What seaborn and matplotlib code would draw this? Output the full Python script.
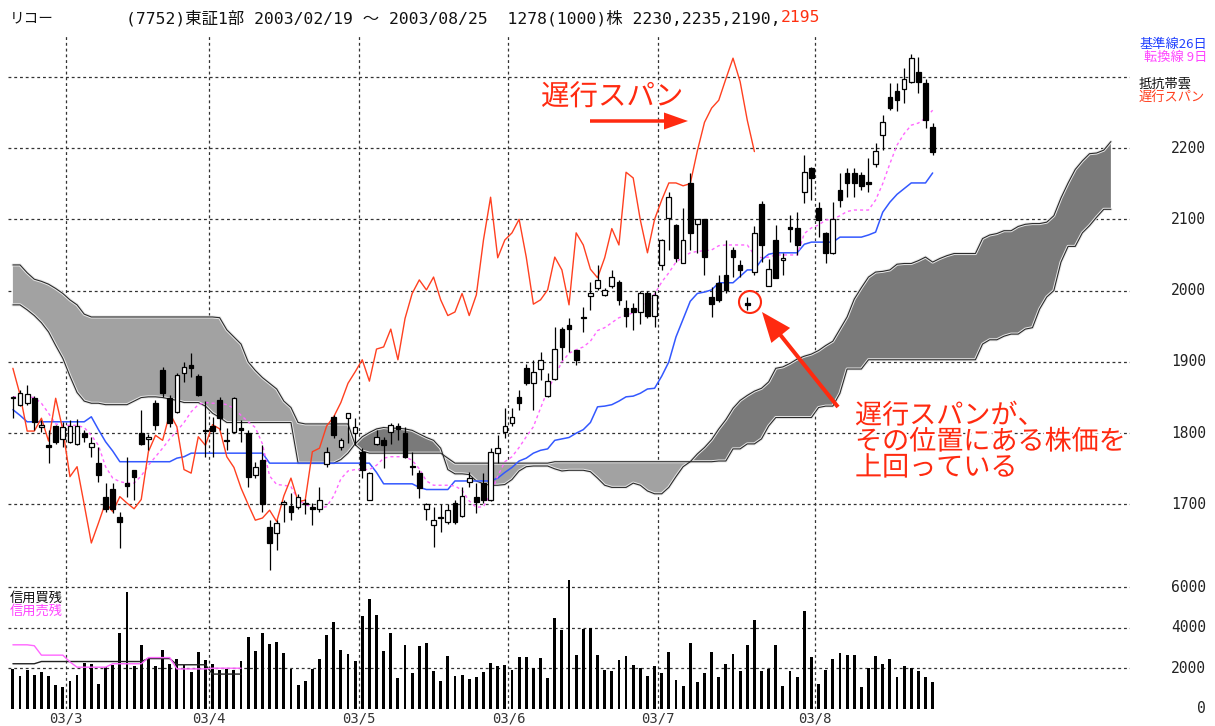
import numpy as np
import pandas as pd
import matplotlib
matplotlib.use("Agg")
import matplotlib.pyplot as plt
import matplotlib.patheffects as pe
import matplotlib.transforms as mtrans
from matplotlib.patches import Circle, FancyArrow
import seaborn as sns

# ---- データ (リコー 7752, 2003/02/19 - 2003/08/25, 日足) ----
open_px = [1849, 1840, 1843, 1850, 1808, 1783, 1810, 1792, 1788, 1785,
           1800, 1781, 1758, 1710, 1722, 1682, 1730, 1749, 1800, 1792,
           1843, 1888, 1849, 1830, 1885, 1896, 1880, 1805, 1810, 1847,
           1791, 1802, 1807, 1800, 1741, 1763, 1668, 1660, 1701, 1698,
           1697, 1700, 1696, 1693, 1757, 1823, 1781, 1821, 1800, 1774,
           1707, 1785, 1790, 1802, 1810, 1800, 1754, 1744, 1693, 1671,
           1683, 1675, 1702, 1684, 1731, 1711, 1730, 1706, 1772, 1802,
           1814, 1851, 1891, 1870, 1890, 1852, 1876, 1946, 1952, 1917,
           1963, 1992, 2004, 1994, 2006, 2012, 1976, 1975, 1970, 1996,
           1965, 2036, 2102, 2092, 2039, 2151, 2093, 2100, 1991, 2011,
           2022, 2057, 2036, 1982, 2026, 2121, 2006, 2071, 2043, 2089,
           2088, 2138, 2172, 2116, 2081, 2053, 2141, 2165, 2165, 2162,
           2152, 2178, 2218, 2271, 2280, 2283, 2293, 2307, 2291, 2230]
high_px = [1852, 1860, 1867, 1852, 1819, 1805, 1812, 1816, 1819, 1820,
           1805, 1795, 1780, 1730, 1730, 1689, 1767, 1749, 1832, 1799,
           1847, 1893, 1854, 1885, 1900, 1913, 1883, 1845, 1823, 1851,
           1807, 1851, 1819, 1805, 1760, 1784, 1678, 1678, 1706, 1716,
           1715, 1708, 1702, 1725, 1781, 1826, 1793, 1829, 1821, 1779,
           1745, 1805, 1795, 1814, 1814, 1808, 1774, 1749, 1702, 1697,
           1700, 1700, 1706, 1725, 1745, 1730, 1744, 1779, 1797, 1835,
           1835, 1861, 1897, 1903, 1914, 1884, 1949, 1949, 1962, 1917,
           1977, 2012, 2036, 2003, 2029, 2015, 1987, 1983, 1999, 1999,
           1999, 2072, 2138, 2093, 2116, 2165, 2101, 2101, 2005, 2022,
           2071, 2061, 2043, 1991, 2090, 2126, 2044, 2092, 2053, 2106,
           2110, 2190, 2173, 2124, 2082, 2124, 2165, 2172, 2172, 2166,
           2186, 2207, 2246, 2291, 2291, 2312, 2332, 2328, 2297, 2235]
low_px = [1822, 1838, 1840, 1805, 1802, 1758, 1785, 1780, 1786, 1784,
          1787, 1767, 1732, 1690, 1688, 1639, 1711, 1707, 1783, 1776,
          1805, 1851, 1809, 1828, 1872, 1879, 1852, 1767, 1767, 1805,
          1776, 1800, 1788, 1725, 1737, 1690, 1608, 1636, 1676, 1678,
          1693, 1686, 1671, 1690, 1753, 1793, 1777, 1786, 1783, 1737,
          1706, 1783, 1751, 1785, 1790, 1765, 1741, 1709, 1678, 1641,
          1661, 1673, 1673, 1683, 1725, 1688, 1702, 1705, 1758, 1793,
          1810, 1833, 1867, 1833, 1875, 1851, 1875, 1903, 1914, 1896,
          1942, 1973, 2001, 1992, 2004, 1980, 1949, 1945, 1953, 1962,
          1949, 2029, 2057, 2040, 2039, 2057, 2053, 2022, 1963, 1984,
          1997, 2019, 2019, 1973, 2022, 2040, 2006, 2018, 2022, 2068,
          2050, 2123, 2127, 2075, 2039, 2052, 2117, 2131, 2131, 2141,
          2138, 2174, 2197, 2254, 2252, 2263, 2291, 2277, 2228, 2190]
close_px = [1850, 1856, 1855, 1816, 1812, 1781, 1787, 1808, 1810, 1810,
            1795, 1786, 1742, 1693, 1693, 1675, 1726, 1739, 1785, 1794,
            1812, 1857, 1814, 1882, 1893, 1891, 1854, 1803, 1803, 1821,
            1789, 1849, 1805, 1739, 1753, 1700, 1646, 1674, 1703, 1690,
            1711, 1702, 1694, 1707, 1774, 1797, 1790, 1828, 1809, 1749,
            1744, 1795, 1783, 1812, 1806, 1767, 1752, 1723, 1700, 1678,
            1681, 1692, 1676, 1712, 1737, 1704, 1706, 1774, 1779, 1810,
            1823, 1843, 1870, 1886, 1903, 1873, 1918, 1921, 1946, 1903,
            1961, 1996, 2015, 2001, 2019, 1987, 1965, 1970, 1996, 1965,
            1994, 2071, 2131, 2046, 2071, 2081, 2100, 2047, 1981, 1987,
            2001, 2047, 2029, 1980, 2081, 2064, 2030, 2018, 2046, 2087,
            2064, 2166, 2158, 2099, 2053, 2100, 2127, 2151, 2151, 2147,
            2150, 2196, 2236, 2256, 2267, 2297, 2326, 2293, 2239, 2195]
volume = [1955, 1615, 1920, 1665, 1785, 1615, 1155, 1055, 1360, 1665,
          2245, 2190, 1225, 2040, 2160, 3740, 5730, 2090, 3145, 2465,
          2090, 2890, 2210, 2465, 2125, 1785, 2770, 2380, 2210, 1920,
          1955, 1920, 2345, 3520, 2840, 3740, 3180, 3265, 2720, 1955,
          1175, 1360, 1955, 2430, 3620, 4250, 2890, 2685, 2360, 4590,
          5390, 4640, 2840, 3740, 1530, 3130, 1740, 3080, 3250, 1860,
          1340, 2610, 1620, 1650, 1445, 1550, 1790, 2260, 2090, 2140,
          1915, 2560, 2560, 2000, 2490, 1515, 4470, 3880, 6490, 2660,
          3950, 4000, 2660, 1915, 1830, 2380, 2610, 2140, 2000, 1620,
          2090, 1740, 2780, 1390, 1100, 3250, 1305, 1740, 2780, 1565,
          2210, 2700, 1830, 3130, 4350, 1830, 1965, 3130, 1100, 1830,
          1565, 4820, 2560, 1220, 1915, 2440, 2730, 2660, 2660, 1045,
          2000, 2610, 2210, 2440, 1565, 2090, 2000, 1860, 1565, 1305]

# 信用残 (週次, 03/4 途中まで)
margin_buy = [2210, 2210, 2210, 2210, 2320, 2320, 2320, 2320, 2320, 2320, 2320,
              2320, 2320, 2320, 2320, 2320, 2320, 2320, 2320, 2465, 2465, 2465,
              2465, 2160, 2160, 2160, 2160, 2160, 1700, 1700, 1700, 1700, 1700]
margin_sell = [3145, 3145, 3145, 3100, 2635, 2635, 2635, 2635, 2300, 2040, 2040,
               2040, 2040, 2040, 2210, 2210, 2210, 2210, 2210, 2515, 2515, 2515,
               2515, 1955, 1955, 1955, 1955, 1955, 1990, 1990, 1990, 1990, 1990]

# 一目均衡表
tenkan = [1851, 1851, 1851, 1850, 1842, 1828, 1813, 1811, 1811, 1811,
          1808, 1797, 1783, 1753, 1737, 1732, 1730, 1730, 1740, 1755,
          1767, 1779, 1792, 1803, 1815, 1830, 1840, 1843, 1842, 1842,
          1840, 1835, 1825, 1816, 1808, 1785, 1740, 1728, 1727, 1725,
          1707, 1700, 1696, 1695, 1697, 1712, 1736, 1747, 1749, 1749,
          1749, 1755, 1765, 1767, 1767, 1767, 1762, 1750, 1733, 1727,
          1727, 1727, 1726, 1720, 1705, 1696, 1697, 1715, 1740, 1760,
          1767, 1780, 1795, 1809, 1835, 1860, 1880, 1900, 1912, 1917,
          1921, 1929, 1944, 1948, 1955, 1962, 1965, 1969, 1975, 1984,
          1995, 2012, 2025, 2040, 2047, 2053, 2055, 2056, 2057, 2063,
          2064, 2064, 2064, 2064, 2050, 2046, 2047, 2050, 2050, 2050,
          2050, 2080, 2088, 2092, 2099, 2100, 2105, 2111, 2113, 2113,
          2113, 2127, 2150, 2178, 2204, 2220, 2232, 2235, 2242, 2253]
kijun = [1833, 1825, 1816, 1816, 1816, 1816, 1816, 1816, 1816, 1816,
         1816, 1823, 1805, 1788, 1775, 1760, 1760, 1760, 1760, 1760,
         1760, 1760, 1760, 1765, 1767, 1772, 1772, 1772, 1772, 1772,
         1772, 1772, 1772, 1772, 1772, 1772, 1758, 1758, 1758, 1758,
         1758, 1758, 1758, 1758, 1758, 1758, 1758, 1758, 1758, 1758,
         1758, 1745, 1729, 1729, 1729, 1729, 1729, 1724, 1721, 1721,
         1721, 1721, 1733, 1733, 1733, 1733, 1733, 1733, 1737, 1745,
         1752, 1761, 1765, 1772, 1776, 1778, 1790, 1792, 1794, 1800,
         1805, 1815, 1837, 1838, 1840, 1845, 1851, 1852, 1856, 1862,
         1863, 1880, 1900, 1935, 1960, 1985, 1996, 1998, 2001, 2011,
         2011, 2011, 2020, 2029, 2029, 2043, 2051, 2053, 2053, 2053,
         2053, 2065, 2068, 2068, 2068, 2068, 2075, 2075, 2075, 2075,
         2078, 2082, 2110, 2124, 2135, 2143, 2151, 2151, 2151, 2165]
span_a = [1980, 1980, 1973, 1965, 1955, 1942, 1923, 1905, 1880, 1857,
          1845, 1842, 1842, 1840, 1840, 1840, 1840, 1845, 1850, 1851,
          1851, 1850, 1848, 1846, 1843, 1843, 1843, 1838, 1828, 1822,
          1815, 1815, 1815, 1815, 1815, 1815, 1815, 1815, 1815, 1815,
          1758, 1758, 1758, 1758, 1758, 1758, 1763, 1772, 1785, 1795,
          1801, 1806, 1808, 1807, 1807, 1806, 1804, 1799, 1794, 1790,
          1779, 1749, 1743, 1743, 1742, 1733, 1729, 1727, 1727, 1728,
          1735, 1747, 1753, 1754, 1754, 1754, 1750, 1747, 1748, 1748,
          1748, 1746, 1737, 1727, 1724, 1724, 1724, 1730, 1727, 1719,
          1715, 1715, 1724, 1739, 1753, 1760, 1771, 1780, 1791, 1806,
          1819, 1835, 1846, 1853, 1859, 1863, 1872, 1891, 1893, 1898,
          1904, 1908, 1911, 1916, 1923, 1929, 1946, 1963, 1988, 2004,
          2019, 2026, 2027, 2029, 2037, 2038, 2038, 2042, 2047, 2040,
          2045, 2049, 2052, 2052, 2052, 2052, 2073, 2078, 2080, 2084,
          2084, 2090, 2093, 2094, 2094, 2096, 2105, 2130, 2151, 2170,
          2182, 2192, 2193, 2197, 2209]
span_b = [2036, 2036, 2025, 2016, 2013, 2009, 2003, 1996, 1987, 1980,
          1967, 1963, 1963, 1963, 1963, 1963, 1963, 1963, 1963, 1963,
          1963, 1963, 1963, 1963, 1963, 1963, 1963, 1963, 1963, 1962,
          1945, 1935, 1925, 1900, 1888, 1878, 1870, 1862, 1845, 1836,
          1815, 1813, 1813, 1813, 1813, 1813, 1813, 1813, 1784, 1775,
          1772, 1772, 1772, 1772, 1772, 1772, 1772, 1772, 1772, 1772,
          1772, 1765, 1758, 1758, 1758, 1758, 1758, 1758, 1758, 1758,
          1758, 1758, 1758, 1758, 1758, 1758, 1760, 1760, 1760, 1760,
          1760, 1760, 1760, 1760, 1760, 1760, 1760, 1760, 1760, 1760,
          1760, 1760, 1760, 1760, 1760, 1760, 1760, 1760, 1760, 1761,
          1761, 1778, 1778, 1785, 1785, 1792, 1810, 1822, 1822, 1822,
          1822, 1822, 1822, 1836, 1838, 1838, 1856, 1890, 1890, 1890,
          1903, 1903, 1903, 1903, 1903, 1903, 1903, 1903, 1903, 1903,
          1903, 1903, 1903, 1903, 1903, 1903, 1925, 1931, 1931, 1936,
          1939, 1939, 1946, 1948, 1974, 1991, 2000, 2040, 2062, 2062,
          2081, 2091, 2103, 2114, 2114]
chikou_shift = 25

month_labels = ["03/3", "03/4", "03/5", "03/6", "03/7", "03/8"]
month_start = [8, 28, 49, 70, 91, 113]   # 各月の最初の営業日の番号
price_ticks = [1700, 1800, 1900, 2000, 2100, 2200]
price_grid = [1700, 1800, 1900, 2000, 2100, 2200, 2300]
volume_ticks = [0, 2000, 4000, 6000]

# ---- 描画 ----
sns.set_theme(style="white")
plt.rcParams['font.family'] = ['Noto Sans CJK JP', 'DejaVu Sans']
plt.rcParams['axes.unicode_minus'] = False
MONO = ['DejaVu Sans Mono', 'Noto Sans CJK JP']

W, H = 1215, 726
fig = plt.figure(figsize=(W / 100, H / 100), dpi=100)
fig.patch.set_facecolor("white")


def frac(left, top, right, bottom):
    return [left / W, 1 - bottom / H, (right - left) / W, (bottom - top) / H]


ax = fig.add_axes(frac(8, 35, 1130, 580))
axv = fig.add_axes(frac(8, 580, 1130, 708.5))
ov = fig.add_axes([0, 0, 1, 1], zorder=10)
ov.set_xlim(0, W)
ov.set_ylim(H, 0)
ov.axis("off")

xlim = (-0.687, 156.68)
ax.set_xlim(*xlim)
ax.set_ylim(1594.1, 2358.5)
axv.set_xlim(*xlim)
axv.set_ylim(0, 6346)
for a in (ax, axv):
    a.set_xticks([])
    a.set_yticks([])
    a.patch.set_alpha(0)
    sns.despine(ax=a, left=True, bottom=True)

grid_kw = dict(color="#333333", lw=0.9, linestyle=(0, (2.3, 2.3)), zorder=1)
for p in price_grid:
    ax.axhline(p, **grid_kw)
for v in volume_ticks[1:]:
    axv.axhline(v, **grid_kw)
for m in month_start:
    ax.axvline(m - 0.5, **grid_kw)
    axv.axvline(m - 0.5, **grid_kw)

# 雲
cx = np.arange(len(span_a))
sa = np.array(span_a, dtype=float)
sb = np.array(span_b, dtype=float)
ax.fill_between(cx, sa, sb, where=sb >= sa, interpolate=True,
                color="#a2a2a2", lw=0, zorder=2)
ax.fill_between(cx, sa, sb, where=sa > sb, interpolate=True,
                color="#7a7a7a", lw=0, zorder=2)
for s in (sa, sb):
    ax.plot(cx, s, color="#e8e8e8", lw=2.2, zorder=2.5)
    ax.plot(cx, s, color="#2a2a2a", lw=0.8, zorder=2.6)

# ローソク足
idx = np.arange(len(close_px))
o = np.array(open_px, dtype=float)
c = np.array(close_px, dtype=float)
hi = np.array(high_px, dtype=float)
lo = np.array(low_px, dtype=float)
up = c >= o
ax.vlines(idx, lo, hi, color="black", lw=0.9, zorder=7)
body_lo = np.minimum(o, c)
body_h = np.maximum(np.abs(c - o), 1.2)
ax.bar(idx[up], body_h[up], bottom=body_lo[up], width=0.66, color="white",
       edgecolor="black", lw=0.9, zorder=8)
ax.bar(idx[~up], body_h[~up], bottom=body_lo[~up], width=0.66, color="black",
       edgecolor="black", lw=0.9, zorder=8)

# 基準線・転換線・遅行スパン
sns.lineplot(x=idx, y=kijun, ax=ax, color="#3358ff", lw=1.1, zorder=6)
sns.lineplot(x=idx, y=tenkan, ax=ax, color="#ff66ff", lw=1.0,
             linestyle=(0, (2.2, 2.2)), zorder=6)
chikou = pd.Series(close_px).shift(-chikou_shift).dropna()
sns.lineplot(x=chikou.index, y=chikou.values, ax=ax, color="#ff4020",
             lw=1.0, zorder=6)
ax.set_xlabel("")
ax.set_ylabel("")

# 出来高・信用残
axv.bar(idx, volume, width=0.40, color="black", lw=0, zorder=3)
mi = np.arange(len(margin_buy))
sns.lineplot(x=mi, y=margin_buy, ax=axv, color="#222222", lw=1.0, zorder=4)
sns.lineplot(x=mi, y=margin_sell, ax=axv, color="#ff66ff", lw=1.0, zorder=4)
axv.set_xlabel("")
axv.set_ylabel("")

# 目盛り
t_price = mtrans.blended_transform_factory(ov.transData, ax.transData)
for p in price_ticks:
    ov.text(1206, p, str(p), transform=t_price, ha="right", va="center",
            fontsize=10.5, family=MONO, color="#222222")
t_vol = mtrans.blended_transform_factory(ov.transData, axv.transData)
for v in volume_ticks:
    ov.text(1206, v, str(v), transform=t_vol, ha="right", va="center",
            fontsize=10.5, family=MONO, color="#222222")
t_month = mtrans.blended_transform_factory(axv.transData, ov.transData)
for m, lab in zip(month_start, month_labels):
    ov.text(m - 0.5, 718, lab, transform=t_month, ha="center", va="center",
            fontsize=10, family=MONO, color="#333333")

# 見出し
ov.text(10, 18, "リコー", ha="left", va="center", fontsize=10.5, color="#111111")
head = ov.text(126, 18, "(7752)東証1部 2003/02/19 ～ 2003/08/25  1278(1000)株 2230,2235,2190,",
               ha="left", va="center", fontsize=11.8, family=MONO, color="#111111")
fig.canvas.draw()
bb = head.get_window_extent()
ov.text(bb.x1, 18, "2195", ha="left", va="center", fontsize=11.8, family=MONO,
        color="#ff3010")

# 凡例
ov.text(1207, 44, "基準線26日", ha="right", va="center", fontsize=9.5, color="#2040ff")
ov.text(1207, 57, "転換線 9日", ha="right", va="center", fontsize=9.5, color="#ff44ff")
ov.text(1139, 84, "抵抗帯雲", ha="left", va="center", fontsize=9.5, color="#111111")
ov.text(1139, 97, "遅行スパン", ha="left", va="center", fontsize=9.5, color="#ff4020")
ov.text(10, 598, "信用買残", ha="left", va="center", fontsize=9.5, color="#111111")
ov.text(10, 611, "信用売残", ha="left", va="center", fontsize=9.5, color="#ff44ff")

# 注記
red = "#ff2a10"
halo = [pe.withStroke(linewidth=3, foreground="white")]
ov.text(541, 97, "遅行スパン", ha="left", va="center", fontsize=20.5,
        color=red, path_effects=halo)
ov.add_patch(FancyArrow(590, 121, 98, 0, width=3.5, head_width=17,
                        head_length=24, length_includes_head=True,
                        color=red, lw=0))
ov.add_patch(Circle((750, 302), 11, fill=False, ec=red, lw=1.5))
ov.add_patch(FancyArrow(838, 407, -76, -95, width=4, head_width=24,
                        head_length=30, length_includes_head=True,
                        color=red, lw=0))
for y, line in zip([416, 442, 468], ["遅行スパンが、", "その位置にある株価を", "上回っている"]):
    ov.text(855, y, line, ha="left", va="center", fontsize=19.5, color=red,
            path_effects=halo)

fig.savefig("out.png", dpi=100, facecolor="white")
